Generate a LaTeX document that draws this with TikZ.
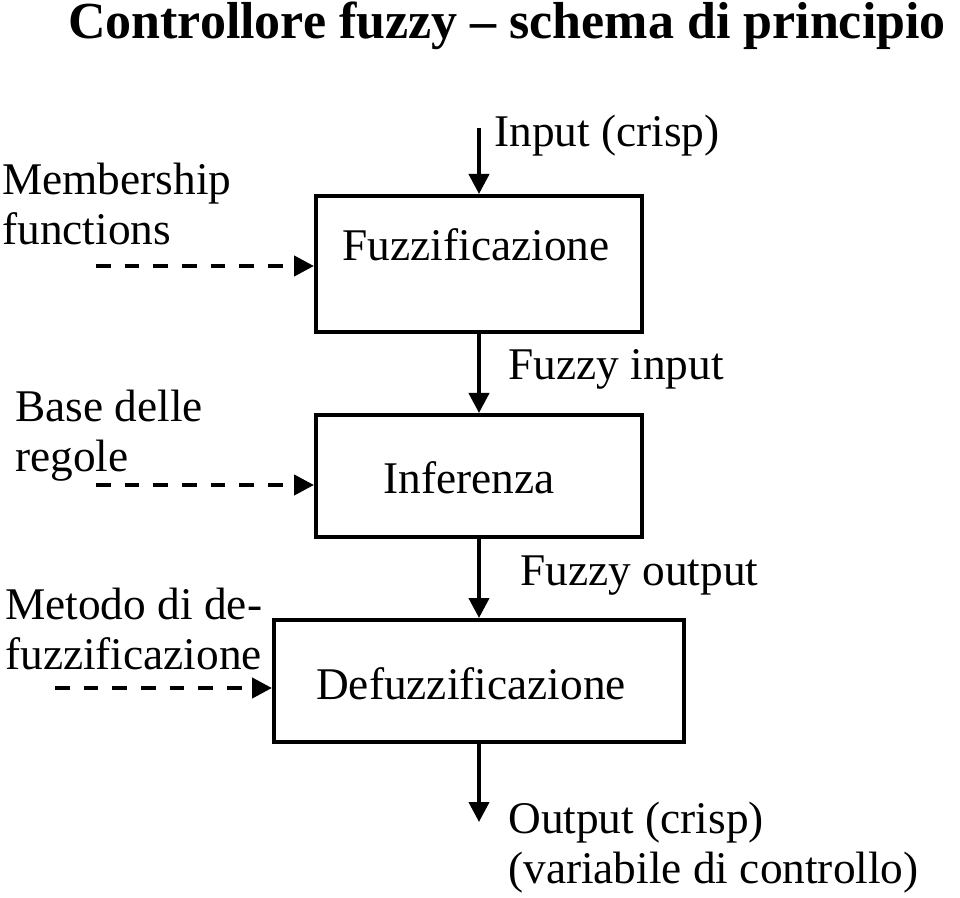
\documentclass[tikz,border=0pt]{standalone}
\usepackage{fontspec}
\setmainfont{Liberation Serif}
\usetikzlibrary{arrows.meta}
\begin{document}
\begin{tikzpicture}[x=0.75pt,y=-0.75pt,
  box/.style={draw,line width=3pt,inner sep=0pt},
  lbl/.style={inner sep=0pt,font=\fontsize{34}{37.5}\selectfont,align=left},
  arr/.style={line width=3pt,-{Triangle[length=15pt,width=15pt]}},
  darr/.style={line width=3.2pt,dash pattern=on 11pt off 10.5pt,-{Triangle[length=15pt,width=15pt]}}]
\useasboundingbox (0,0) rectangle (960,898);
\node[inner sep=0pt,anchor=base,font=\fontsize{39}{43}\selectfont\bfseries] (title) at (507,39) {Controllore fuzzy -- schema di principio};
% boxes
\node[box,minimum width=326*0.75pt,minimum height=136*0.75pt] (b1) at (479,264) {};
\node[box,minimum width=326*0.75pt,minimum height=122*0.75pt] (b2) at (479,476) {};
\node[box,minimum width=410*0.75pt,minimum height=122*0.75pt] (b3) at (479,681) {};
\node[lbl] (t1) at (476,245) {Fuzzificazione};
\node[lbl] (t2) at (469,478) {Inferenza};
\node[lbl] (t3) at (471,684) {Defuzzificazione};
% vertical flow
\coordinate (in) at (479,128);
\coordinate (out) at (479,822);
\draw[arr] (in) -- (b1.north);
\draw[arr] (b1.south) -- (b2.north);
\draw[arr] (b2.south) -- (b3.north);
\draw[arr] (b3.south) -- (out);
\node[lbl,anchor=west] (li) at (494,136) {Input (crisp)};
\node[lbl,anchor=west] (lfi) at (508,369) {Fuzzy input};
\node[lbl,anchor=west] (lfo) at (520,576) {Fuzzy output};
\node[lbl,anchor=west] (lo) at (508,848) {Output (crisp)\\(variabile di controllo)};
% left labels
\node[lbl,anchor=west] (m) at (2,204) {Membership\\functions};
\node[lbl,anchor=west] (r) at (15,436) {Base delle\\regole};
\node[lbl,anchor=west] (d) at (5,629) {Metodo di de-\\fuzzificazione};
\coordinate (m0) at (96,266);
\coordinate (r0) at (96,485);
\coordinate (d0) at (55,688);
\draw[darr] (m0) -- (m0 -| b1.west);
\draw[darr] (r0) -- (r0 -| b2.west);
\draw[darr] (d0) -- (d0 -| b3.west);
\end{tikzpicture}
\end{document}
